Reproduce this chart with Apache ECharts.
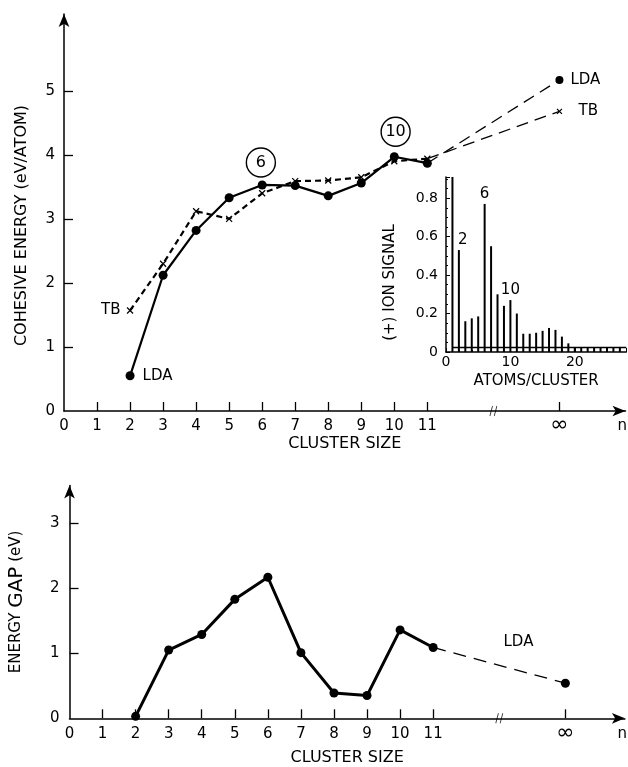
<!DOCTYPE html>
<html>
<head>
<meta charset="utf-8">
<script src="https://cdn.jsdelivr.net/npm/echarts@6/dist/echarts.min.js"></script>
<style>
html,body{margin:0;padding:0;background:#fff;}
#chart{width:628px;height:767px;}
</style>
</head>
<body>
<div id="chart"></div>
<script>
// ---------- data ----------
const clusterSizes = [2, 3, 4, 5, 6, 7, 8, 9, 10, 11];
const infinityPos = 15;      // axis position used for n = infinity
const breakPos = 13;         // axis break position
const ldaCohesive = [0.55, 2.12, 2.82, 3.33, 3.53, 3.52, 3.36, 3.56, 3.97, 3.87];
const tbCohesive  = [1.57, 2.30, 3.12, 3.00, 3.40, 3.59, 3.60, 3.65, 3.90, 3.94];
const ldaCohesiveInf = 5.17;
const tbCohesiveInf = 4.68;
const ldaGap = [0.03, 1.05, 1.29, 1.83, 2.17, 1.01, 0.39, 0.35, 1.36, 1.09];
const ldaGapInf = 0.54;
const magicLabels = [[5.96, 3.88, '6'], [10.04, 4.36, '10']];
const gapLabelPos = [13.58, 1.17];

const ionAtoms  = [1, 2, 3, 4, 5, 6, 7, 8, 9, 10, 11, 12, 13, 14, 15, 16, 17, 18, 19, 20, 21, 22, 23, 24, 25, 26, 27];
const ionSignal = [0.91, 0.53, 0.16, 0.175, 0.185, 0.77, 0.55, 0.30, 0.24, 0.27, 0.20, 0.095, 0.095, 0.10, 0.11, 0.125, 0.115, 0.08, 0.045, 0.025, 0.025, 0.025, 0.025, 0.025, 0.025, 0.025, 0.025];
const ionPeakLabels = {2: '2', 6: '6', 10: '10'};
const ionBaseline = 0.025;
const ionBaselineRange = [1, 28];

const sizeTickValues = [1, 2, 3, 4, 5, 6, 7, 8, 9, 10, 11, 15];
const sizeLabelValues = [0, 1, 2, 3, 4, 5, 6, 7, 8, 9, 10, 11, 15];
const cohesiveTicks = [0, 1, 2, 3, 4, 5];
const gapTicks = [0, 1, 2, 3];
const ionYTicks = [0, 0.2, 0.4, 0.6, 0.8];
const ionXTicks = [0, 10, 20];

// ---------- helpers ----------
const FONT = 'DejaVu Sans';
const BLACK = '#000';
function sizeFmt(v) {
  if (v === infinityPos) return '{inf|∞}';
  if (v > 16) return 'n';
  return String(v);
}
function xSizeAxis(grid, max, nPos) {
  return {
    gridIndex: grid, type: 'value', min: 0, max: max,
    axisLine: {show: true, onZero: false, symbol: ['none', 'arrow'], symbolSize: [8, 13],
      lineStyle: {color: BLACK, width: 1.5}},
    axisTick: {show: true, inside: true, length: 9, customValues: sizeTickValues,
      lineStyle: {color: BLACK, width: 1.3}},
    axisLabel: {show: true, customValues: sizeLabelValues.concat([nPos]), margin: 7,
      color: BLACK, fontFamily: FONT, fontSize: 15, lineHeight: 17,
      formatter: sizeFmt,
      rich: {inf: {fontFamily: FONT, fontSize: 22, color: BLACK, lineHeight: 17, padding: [0, 0, 2, 0]}}},
    splitLine: {show: false},
    name: 'CLUSTER SIZE', nameLocation: 'middle', nameMoveOverlap: false,
    nameTextStyle: {color: BLACK, fontFamily: FONT, fontSize: 16}
  };
}
const breakSymbol = 'path://M3,0 L0,12 M8,0 L5,12';

const option = {
  backgroundColor: '#fff',
  animation: false,
  grid: [
    {left: 64, top: 14, width: 561.5, height: 397, containLabel: false, outerBoundsMode: 'none'},
    {left: 446, top: 177, width: 180.3, height: 175, containLabel: false, outerBoundsMode: 'none'},
    {left: 69.5, top: 485.6, width: 555.4, height: 232.7, containLabel: false, outerBoundsMode: 'none'}
  ],
  xAxis: [
    Object.assign(xSizeAxis(0, 17, 16.9), {nameGap: 25}),
    {
      gridIndex: 1, type: 'value', min: 0, max: 28, interval: 10,
      axisLine: {show: true, onZero: false, lineStyle: {color: BLACK, width: 1.5}},
      axisTick: {show: true, inside: true, length: 4, lineStyle: {color: BLACK}},
      minorTick: {show: true, splitNumber: 5, length: 2, lineStyle: {color: BLACK}},
      axisLabel: {customValues: ionXTicks, color: BLACK, fontFamily: FONT, fontSize: 14, margin: 3},
      splitLine: {show: false},
      name: 'ATOMS/CLUSTER', nameLocation: 'middle', nameGap: 22,
      nameTextStyle: {color: BLACK, fontFamily: FONT, fontSize: 15}
    },
    Object.assign(xSizeAxis(2, 16.8, 16.72), {nameGap: 32})
  ],
  yAxis: [
    {
      gridIndex: 0, type: 'value', min: 0, max: 6.2, interval: 1,
      axisLine: {show: true, onZero: false, symbol: ['none', 'arrow'], symbolSize: [8, 13],
        lineStyle: {color: BLACK, width: 1.5}},
      axisTick: {show: true, inside: true, length: 9, customValues: cohesiveTicks.slice(1),
        lineStyle: {color: BLACK, width: 1.3}},
      axisLabel: {customValues: cohesiveTicks, color: BLACK, fontFamily: FONT, fontSize: 15, margin: 9},
      splitLine: {show: false},
      name: 'COHESIVE ENERGY (eV/ATOM)', nameLocation: 'middle', nameGap: 34, nameRotate: 90,
      nameTextStyle: {color: BLACK, fontFamily: FONT, fontSize: 16, padding: [0, 26, 0, 0]}
    },
    {
      gridIndex: 1, type: 'value', min: 0, max: 0.91, interval: 0.2,
      axisLine: {show: true, onZero: false, lineStyle: {color: BLACK, width: 1.5}},
      axisTick: {show: true, inside: true, length: 4, lineStyle: {color: BLACK}},
      minorTick: {show: true, splitNumber: 4, length: 2, lineStyle: {color: BLACK}},
      axisLabel: {customValues: ionYTicks, color: BLACK, fontFamily: FONT, fontSize: 14, margin: 8,
        formatter: function (v) { return v === 0 ? '0' : v.toFixed(1); }},
      splitLine: {show: false},
      name: '(+) ION SIGNAL', nameLocation: 'middle', nameGap: 48, nameRotate: 90,
      nameTextStyle: {color: BLACK, fontFamily: FONT, fontSize: 15, padding: [0, 36, 0, 0]}
    },
    {
      gridIndex: 2, type: 'value', min: 0, max: 3.58, interval: 1,
      axisLine: {show: true, onZero: false, symbol: ['none', 'arrow'], symbolSize: [8, 13],
        lineStyle: {color: BLACK, width: 1.5}},
      axisTick: {show: true, inside: true, length: 9, customValues: gapTicks.slice(1),
        lineStyle: {color: BLACK, width: 1.3}},
      axisLabel: {customValues: gapTicks, color: BLACK, fontFamily: FONT, fontSize: 15, margin: 10},
      splitLine: {show: false},
      name: '{a|ENERGY }{b|GAP}{a| (eV)}', nameLocation: 'middle', nameGap: 43, nameRotate: 90,
      nameTextStyle: {color: BLACK, fontFamily: FONT, fontSize: 15,
        rich: {a: {fontFamily: FONT, fontSize: 15, color: BLACK},
               b: {fontFamily: FONT, fontSize: 20, color: BLACK}}}
    }
  ],
  series: []
};

const labelStyle = {color: BLACK, fontFamily: FONT, fontSize: 15, textBorderWidth: 0, opacity: 1};
const xSym = 'path://M0,0 L10,10 M10,0 L0,10';

// top: LDA solid
option.series.push({
  type: 'line', xAxisIndex: 0, yAxisIndex: 0, clip: false,
  data: clusterSizes.map((n, i) => i === 0
    ? {value: [n, ldaCohesive[i]], label: Object.assign({show: true, position: 'right', distance: 8, formatter: 'LDA'}, labelStyle)}
    : [n, ldaCohesive[i]]),
  symbol: 'circle', symbolSize: 9,
  lineStyle: {color: BLACK, width: 2.2},
  itemStyle: {color: BLACK}, z: 5
});
// top: TB dashed
option.series.push({
  type: 'line', xAxisIndex: 0, yAxisIndex: 0, clip: false,
  data: clusterSizes.map((n, i) => i === 0
    ? {value: [n, tbCohesive[i]], label: Object.assign({show: true, position: 'left', distance: 6, formatter: 'TB'}, labelStyle)}
    : [n, tbCohesive[i]]),
  symbol: xSym, symbolSize: 6,
  lineStyle: {color: BLACK, width: 2.2, type: [6, 4]},
  itemStyle: {color: BLACK, borderColor: BLACK, borderWidth: 1.2}, z: 4
});
// top: extrapolations to infinity
option.series.push({
  type: 'line', xAxisIndex: 0, yAxisIndex: 0, clip: false,
  data: [
    {value: [clusterSizes[clusterSizes.length - 1], ldaCohesive[ldaCohesive.length - 1]], symbol: 'none'},
    {value: [infinityPos, ldaCohesiveInf], label: Object.assign({show: true, position: 'right', distance: 7, formatter: 'LDA'}, labelStyle)}
  ],
  symbol: 'circle', symbolSize: 8,
  lineStyle: {color: BLACK, width: 1.3, type: [12, 7]},
  itemStyle: {color: BLACK}
});
option.series.push({
  type: 'line', xAxisIndex: 0, yAxisIndex: 0, clip: false,
  data: [
    {value: [clusterSizes[clusterSizes.length - 1], tbCohesive[tbCohesive.length - 1]], symbol: 'none'},
    {value: [infinityPos, tbCohesiveInf], label: Object.assign({show: true, position: 'right', distance: 16, formatter: 'TB'}, labelStyle)}
  ],
  symbol: xSym, symbolSize: 5,
  lineStyle: {color: BLACK, width: 1.3, type: [12, 7]},
  itemStyle: {color: BLACK, borderColor: BLACK, borderWidth: 1.2}
});
// top: circled magic numbers
option.series.push({
  type: 'scatter', xAxisIndex: 0, yAxisIndex: 0, clip: false,
  data: magicLabels,
  symbol: 'circle', symbolSize: 29,
  itemStyle: {color: '#fff', opacity: 1, borderColor: BLACK, borderWidth: 1.4},
  label: {show: true, position: 'inside', color: BLACK, fontFamily: FONT, fontSize: 16, textBorderWidth: 0,
    formatter: p => p.value[2]}
});
// axis break marks
[[0, 0], [2, 2]].forEach(([xi, yi]) => {
  option.series.push({
    type: 'scatter', xAxisIndex: xi, yAxisIndex: yi, clip: false,
    data: [[breakPos, 0]], symbol: breakSymbol, symbolSize: [7, 10],
    itemStyle: {color: BLACK, borderColor: BLACK, borderWidth: 1}, z: 10
  });
});

// inset: ion signal spectrum
option.series.push({
  type: 'bar', xAxisIndex: 1, yAxisIndex: 1, barWidth: 2,
  data: ionAtoms.map((n, i) => ionPeakLabels[n]
    ? {value: [n, ionSignal[i]], label: {show: true, position: 'top', distance: 2,
        offset: n === 2 ? [4, 0] : [0, 0],
        formatter: ionPeakLabels[n], color: BLACK, fontFamily: FONT, fontSize: 15}}
    : [n, ionSignal[i]]),
  itemStyle: {color: BLACK},
  markLine: {
    silent: true, symbol: 'none', label: {show: false},
    lineStyle: {color: BLACK, width: 1.3, type: 'solid'},
    data: [[{coord: [ionBaselineRange[0], ionBaseline]}, {coord: [ionBaselineRange[1], ionBaseline]}]]
  }
});

// bottom: energy gap
option.series.push({
  type: 'line', xAxisIndex: 2, yAxisIndex: 2, clip: false,
  data: clusterSizes.map((n, i) => [n, ldaGap[i]]),
  symbol: 'circle', symbolSize: 9,
  lineStyle: {color: BLACK, width: 3},
  itemStyle: {color: BLACK}, z: 5
});
option.series.push({
  type: 'line', xAxisIndex: 2, yAxisIndex: 2, clip: false,
  data: [
    {value: [clusterSizes[clusterSizes.length - 1], ldaGap[ldaGap.length - 1]], symbol: 'none'},
    [infinityPos, ldaGapInf]
  ],
  symbol: 'circle', symbolSize: 9,
  lineStyle: {color: BLACK, width: 1.3, type: [13, 8]},
  itemStyle: {color: BLACK}
});
option.series.push({
  type: 'scatter', xAxisIndex: 2, yAxisIndex: 2, clip: false,
  data: [gapLabelPos], symbol: 'circle', symbolSize: 1,
  itemStyle: {color: '#fff', opacity: 1},
  label: Object.assign({show: true, position: 'inside', formatter: 'LDA'}, labelStyle)
});

const chart = echarts.init(document.getElementById('chart'), null, {renderer: 'canvas'});
chart.setOption(option);
</script>
</body>
</html>
